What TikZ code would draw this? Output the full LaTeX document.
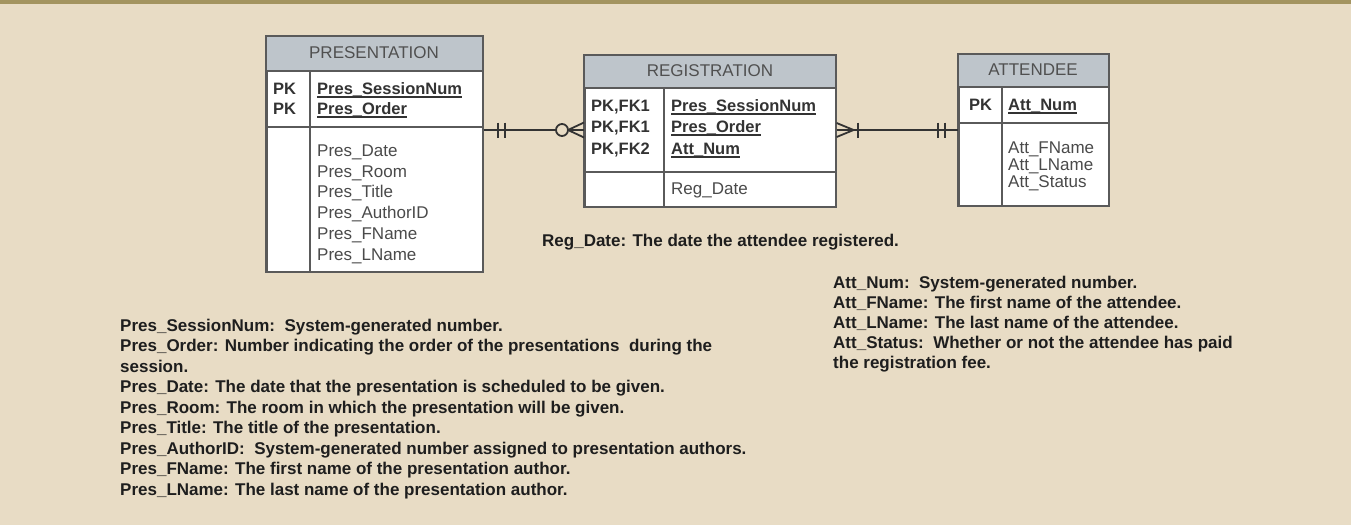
\documentclass[tikz,border=0pt]{standalone}
\usepackage{fontspec}
\setmainfont{Liberation Sans}
\definecolor{bg}{HTML}{E8DCC5}
\definecolor{band}{HTML}{A39460}
\definecolor{hdr}{HTML}{BEC5CB}
\definecolor{bord}{HTML}{5A5A5A}
\definecolor{hdrtxt}{HTML}{505050}
\definecolor{keytxt}{HTML}{333333}
\definecolor{txt}{HTML}{4A4A4A}
\definecolor{notetxt}{HTML}{1E1E1E}
\definecolor{conn}{HTML}{333333}
\tikzset{
  tbl/.style={draw=bord, line width=1.6pt, fill=white, inner sep=0, anchor=north west},
  hdrfill/.style={fill=hdr},
  sep/.style={draw=bord, line width=1.4pt},
  hdrtext/.style={font=\fontsize{17}{17}\selectfont, text=hdrtxt, inner sep=0},
  keylab/.style={font=\fontsize{16.5}{17}\selectfont\bfseries, text=keytxt, anchor=base west, inner sep=0},
  ukey/.style={keylab, append after command={
      ([yshift=-3pt]\tikzlastnode.base west) edge[draw=keytxt, line width=1.2pt] ([yshift=-3pt]\tikzlastnode.base east)}},
  attr/.style={font=\fontsize{17}{17}\selectfont, text=txt, anchor=base west, inner sep=0},
  note/.style={font=\fontsize{17}{17}\selectfont\bfseries, text=notetxt, anchor=base west, inner sep=0},
  rel/.style={draw=conn, line width=1.8pt},
}
\begin{document}
\begin{tikzpicture}[x=1pt,y=-1pt]
\useasboundingbox (0,0) rectangle (1351,525);
\fill[bg] (0,0) rectangle (1351,525);
\fill[band] (0,0) rectangle (1351,4);

% ---------- PRESENTATION ----------
\node[tbl, minimum width=216pt, minimum height=235pt] (pres) at (266,36) {};
\fill[hdrfill] (266,36) rectangle (482,71);
\draw[sep] (266,71) -- (482,71);
\draw[sep] (266,127) -- (482,127);
\draw[sep] (310,71) -- (310,271);
\draw[draw=bord, line width=1.6pt] (pres.north west) rectangle (pres.south east);
\node[hdrtext] (presh) at (374,53) {PRESENTATION};
\node[keylab] (ppk1) at (273,94) {PK};
\node[keylab] (ppk2) at (273,114) {PK};
\node[ukey] (pk1) at (317,94) {Pres\_SessionNum};
\node[ukey] (pk2) at (317,114) {Pres\_Order};
\node[attr] (pa1) at (317,156) {Pres\_Date};
\node[attr] (pa2) at (317,177) {Pres\_Room};
\node[attr] (pa3) at (317,197) {Pres\_Title};
\node[attr] (pa4) at (317,218) {Pres\_AuthorID};
\node[attr] (pa5) at (317,239) {Pres\_FName};
\node[attr] (pa6) at (317,260) {Pres\_LName};

% ---------- REGISTRATION ----------
\node[tbl, minimum width=251pt, minimum height=151pt] (reg) at (584,55) {};
\fill[hdrfill] (584,55) rectangle (835,88);
\draw[sep] (584,88) -- (835,88);
\draw[sep] (584,172) -- (835,172);
\draw[sep] (664,88) -- (664,206);
\draw[draw=bord, line width=1.6pt] (reg.north west) rectangle (reg.south east);
\node[hdrtext] (regh) at (710,71) {REGISTRATION};
\node[keylab] (rpk1) at (591,111) {PK,FK1};
\node[keylab] (rpk2) at (591,132) {PK,FK1};
\node[keylab] (rpk3) at (591,154) {PK,FK2};
\node[ukey] (rk1) at (671,111) {Pres\_SessionNum};
\node[ukey] (rk2) at (671,132) {Pres\_Order};
\node[ukey] (rk3) at (671,154) {Att\_Num};
\node[attr] (ra1) at (671,194) {Reg\_Date};

% ---------- ATTENDEE ----------
\node[tbl, minimum width=150pt, minimum height=151pt] (att) at (958,54) {};
\fill[hdrfill] (958,54) rectangle (1108,87);
\draw[sep] (958,87) -- (1108,87);
\draw[sep] (958,123) -- (1108,123);
\draw[sep] (1002,87) -- (1002,205);
\draw[draw=bord, line width=1.6pt] (att.north west) rectangle (att.south east);
\node[hdrtext] (atth) at (1033,70) {ATTENDEE};
\node[keylab] (apk1) at (969,110) {PK};
\node[ukey] (ak1) at (1008,110) {Att\_Num};
\node[attr] (aa1) at (1008,153) {Att\_FName};
\node[attr] (aa2) at (1008,170) {Att\_LName};
\node[attr] (aa3) at (1008,187) {Att\_Status};

% ---------- relationships ----------
\coordinate (lvl) at (0,130);
\path (pres.east |- lvl) coordinate (a1) (reg.west |- lvl) coordinate (a2);
\draw[rel] (a1) -- (a2);
\draw[rel] ([xshift=14pt]a1) ++(0,-7.5) -- ++(0,15);
\draw[rel] ([xshift=21pt]a1) ++(0,-7.5) -- ++(0,15);
\draw[rel] ([xshift=-16pt]a2) -- ([yshift=7.5pt]a2);
\draw[rel] ([xshift=-16pt]a2) -- ([yshift=-7.5pt]a2);
\draw[rel, fill=bg] ([xshift=-22pt]a2) circle (6pt);

\path (reg.east |- lvl) coordinate (b1) (att.west |- lvl) coordinate (b2);
\draw[rel] (b1) -- (b2);
\draw[rel] ([xshift=17pt]b1) -- ([yshift=7pt]b1);
\draw[rel] ([xshift=17pt]b1) -- ([yshift=-7pt]b1);
\draw[rel] ([xshift=21pt]b1) ++(0,-7.5) -- ++(0,15);
\draw[rel] ([xshift=-20pt]b2) ++(0,-7.5) -- ++(0,15);
\draw[rel] ([xshift=-13pt]b2) ++(0,-7.5) -- ++(0,15);

% ---------- notes ----------
\node[note] (nreg) at (542,246) {Reg\_Date: The date the attendee registered.};

\node[note] (na1) at (833,288) {Att\_Num:\ \ System-generated number.};
\node[note] (na2) at (833,308) {Att\_FName: The first name of the attendee.};
\node[note] (na3) at (833,328) {Att\_LName: The last name of the attendee.};
\node[note] (na4) at (833,348) {Att\_Status:\ \ Whether or not the attendee has paid};
\node[note] (na5) at (833,368) {the registration fee.};

\node[note] (np1) at (120,331) {Pres\_SessionNum:\ \ System-generated number.};
\node[note] (np2) at (120,351.5) {Pres\_Order: Number indicating the order of the presentations\ \ during the};
\node[note] (np3) at (120,372) {session.};
\node[note] (np4) at (120,392.5) {Pres\_Date: The date that the presentation is scheduled to be given.};
\node[note] (np5) at (120,413) {Pres\_Room: The room in which the presentation will be given.};
\node[note] (np6) at (120,433.5) {Pres\_Title: The title of the presentation.};
\node[note] (np7) at (120,454) {Pres\_AuthorID:\ \ System-generated number assigned to presentation authors.};
\node[note] (np8) at (120,474.5) {Pres\_FName: The first name of the presentation author.};
\node[note] (np9) at (120,495) {Pres\_LName: The last name of the presentation author.};
\end{tikzpicture}
\end{document}
